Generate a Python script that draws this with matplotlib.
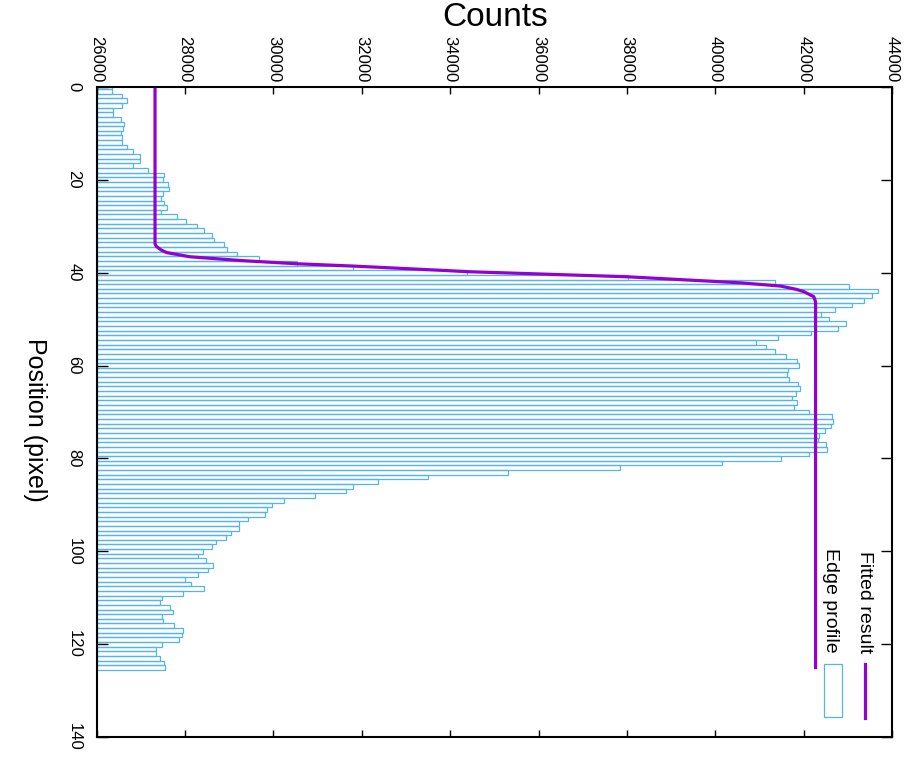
import matplotlib
matplotlib.use("Agg")
import matplotlib.pyplot as plt
from matplotlib.patches import Rectangle

# Edge profile: counts per pixel position
positions = list(range(126))
counts = [
    26353, 26353, 26566, 26680, 26580, 26362, 26376, 26544, 26618, 26596,
    26557, 26566, 26573, 26693, 26829, 26981, 26988, 26829, 27162, 27531,
    27495, 27615, 27645, 27509, 27450, 27524, 27585, 27463, 27812, 28030,
    28279, 28437, 28605, 28664, 28890, 28951, 29185, 29683, 30544, 31798,
    34380, 38027, 41359, 43024, 43681, 43545, 43357, 43092, 42707, 42383,
    42571, 42949, 42784, 42172, 41425, 40911, 41144, 41341, 41606, 41846,
    41891, 41635, 41628, 41680, 41868, 41907, 41816, 41741, 41846, 41787,
    42127, 42632, 42655, 42609, 42480, 42344, 42321, 42496, 42518, 42127,
    41477, 40163, 37847, 35300, 33497, 32371, 31805, 31647, 30944, 30249,
    29977, 29857, 29812, 29427, 29230, 29230, 29042, 28922, 28709, 28611,
    28401, 28301, 28482, 28641, 28521, 28301, 28007, 28143, 28437, 27948,
    27479, 27434, 27667, 27728, 27486, 27509, 27758, 27961, 27932, 27864,
    27479, 27343, 27343, 27434, 27517, 27547,
]

# Fitted edge curve
fit_pos = [0, 33.8, 34.3, 34.7, 35.2, 35.7, 36.6, 37.4, 38.1, 38.6, 39.5,
           39.8, 40.9, 42.2, 42.9, 43.6, 44.1, 45.2, 46.3, 125]
fit_counts = [27320, 27320, 27345, 27395, 27470, 27585, 28113, 29246, 30530,
              31812, 33776, 34381, 38004, 40571, 41477, 41830, 42005, 42231,
              42270, 42270]

count_ticks = list(range(26000, 44001, 2000))
pos_ticks = list(range(0, 141, 20))
base = 26000

bar_color = "#56b4e9"
fit_color = "#9400d3"
sans = ["Liberation Sans", "DejaVu Sans"]

fig = plt.figure(figsize=(9.15, 7.59), dpi=100)
W, H = 915, 759
ax = fig.add_axes([96.7 / W, 1 - 737.3 / H, (892 - 96.7) / W, (737.3 - 86.7) / H])

ax.barh(positions, [c - base for c in counts], left=base, height=1.0,
        fill=False, edgecolor=bar_color, linewidth=0.9)
ax.plot(fit_counts, fit_pos, color=fit_color, linewidth=2.3)

ax.set_xlim(26000, 44000)
ax.set_ylim(140, 0)
ax.set_xticks(count_ticks)
ax.set_yticks(pos_ticks)
ax.set_xticklabels([str(t) for t in count_ticks], rotation=-90,
                   family=sans, fontsize=12)
ax.set_yticklabels([str(t) for t in pos_ticks], rotation=-90,
                   family=sans, fontsize=12, va="center")
ax.xaxis.set_ticks_position("both")
ax.yaxis.set_ticks_position("both")
ax.tick_params(axis="x", direction="in", length=5, width=1.0,
               labeltop=True, labelbottom=False, pad=3)
ax.tick_params(axis="y", direction="in", length=8, width=1.0, pad=11)
for sp in ax.spines.values():
    sp.set_linewidth(1.5)

fig.text(495 / W, 1 - 17 / H, "Counts", ha="center", va="center",
         fontsize=24, family=sans)
fig.text(35 / W, 1 - 420 / H, "Position (pixel)", rotation=-90,
         ha="center", va="center", fontsize=18, family=sans)

# key, drawn by hand since its text runs downwards
def ax_x(px):
    return (px - 96.7) / (892 - 96.7)

def ax_y(py):
    return (737.3 - py) / (737.3 - 86.7)

ax.plot([ax_x(865), ax_x(865)], [ax_y(664), ax_y(718)], color=fit_color,
        linewidth=2.3, transform=ax.transAxes, clip_on=False)
ax.add_patch(Rectangle((ax_x(824), ax_y(717)), ax_x(842) - ax_x(824),
                       ax_y(664) - ax_y(717), fill=False, edgecolor=bar_color,
                       linewidth=0.9, transform=ax.transAxes))
ax.text(ax_x(864), ax_y(653), "Fitted result", rotation=-90, ha="center",
        va="bottom", fontsize=14, family=sans, transform=ax.transAxes)
ax.text(ax_x(831), ax_y(653), "Edge profile", rotation=-90, ha="center",
        va="bottom", fontsize=14, family=sans, transform=ax.transAxes)

fig.savefig("out.png", dpi=100)
